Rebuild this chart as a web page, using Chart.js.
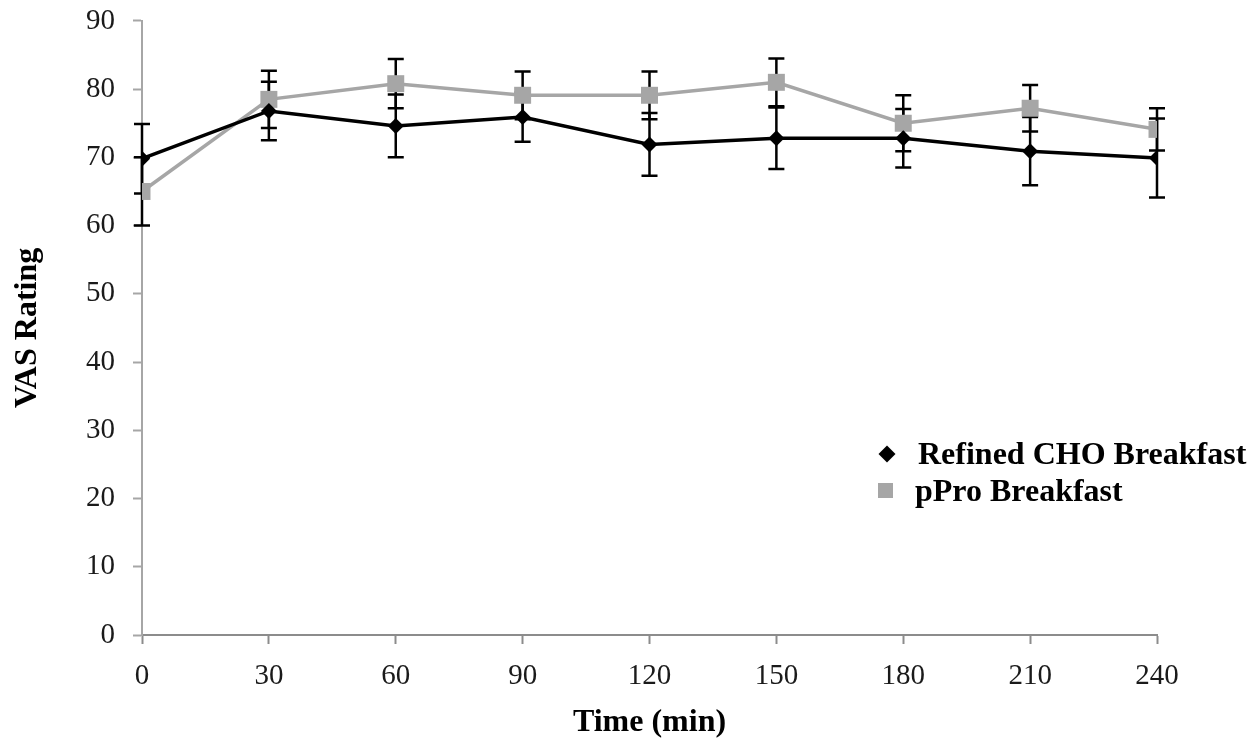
<!DOCTYPE html>
<html lang="en">
<head>
    <meta charset="UTF-8">
    <title>VAS Rating over time</title>
    <script src="https://cdn.jsdelivr.net/npm/chart.js"></script>
    <style>
        body {
            margin: 0;
            background: #fff;
            font-family: "Liberation Serif", "Times New Roman", serif;
        }

        .wrap {
            position: relative;
            width: 1253px;
            height: 743px;
        }

        .legend {
            position: absolute;
            left: 878px;
            top: 435px;
            font-weight: bold;
            font-size: 32px;
            color: #000;
            line-height: 37px;
        }

        .legend .row {
            display: flex;
            align-items: center;
            white-space: nowrap;
        }

        .mark {
            display: inline-block;
            margin-right: 22px;
        }

        .diamond {
            width: 12px;
            height: 12px;
            background: #000;
            transform: rotate(45deg);
            margin-left: 3px;
            margin-right: 25px;
        }

        .square {
            width: 15px;
            height: 15px;
            background: #a6a6a6;
        }
    </style>
</head>
<body>

<div class="wrap">
    <canvas id="vasChart" width="1253" height="743"></canvas>
    <div class="legend">
        <div class="row"><span class="mark diamond"></span>Refined CHO Breakfast</div>
        <div class="row"><span class="mark square"></span>pPro Breakfast</div>
    </div>
</div>

<script>
    // time points (min)
    const times = [0, 30, 60, 90, 120, 150, 180, 210, 240];

    // Refined CHO Breakfast: mean and error
    const refinedMean = [69.8, 76.8, 74.6, 75.9, 71.9, 72.8, 72.8, 70.9, 69.9];
    const refinedErr = [5.1, 4.3, 4.6, 3.6, 4.6, 4.5, 4.3, 5.0, 5.8];

    // pPro Breakfast: mean and error
    const pproMean = [65.0, 78.5, 80.8, 79.1, 79.1, 81.0, 75.0, 77.2, 74.1];
    const pproErr = [5.0, 4.2, 3.6, 3.5, 3.5, 3.5, 4.1, 3.4, 3.1];

    const yTicks = [0, 10, 20, 30, 40, 50, 60, 70, 80, 90];

    const FONT = "'Liberation Serif', 'Times New Roman', serif";

    function points(means) {
        return times.map((t, i) => ({ x: t, y: means[i] }));
    }

    // draws the error bars under the markers
    const errorBars = {
        id: 'errorBars',
        beforeDatasetsDraw(chart) {
            const ctx = chart.ctx;
            const xs = chart.scales.x;
            const ys = chart.scales.y;
            ctx.save();
            ctx.strokeStyle = '#000';
            ctx.lineWidth = 2.5;
            chart.data.datasets.forEach(ds => {
                ds.data.forEach((p, i) => {
                    const e = ds.errors[i];
                    const px = xs.getPixelForValue(p.x);
                    const top = ys.getPixelForValue(p.y + e);
                    const bot = ys.getPixelForValue(p.y - e);
                    ctx.beginPath();
                    ctx.moveTo(px, top);
                    ctx.lineTo(px, bot);
                    ctx.moveTo(px - 8, top);
                    ctx.lineTo(px + 8, top);
                    ctx.moveTo(px - 8, bot);
                    ctx.lineTo(px + 8, bot);
                    ctx.stroke();
                });
            });
            ctx.restore();
        }
    };

    const ctx = document.getElementById('vasChart').getContext('2d');

    new Chart(ctx, {
        type: 'line',
        data: {
            datasets: [
                {
                    label: 'Refined CHO Breakfast',
                    data: points(refinedMean),
                    errors: refinedErr,
                    borderColor: '#000',
                    backgroundColor: '#000',
                    borderWidth: 3.5,
                    pointStyle: 'rectRot',
                    pointRadius: 8,
                    pointBorderWidth: 0,
                    tension: 0
                },
                {
                    label: 'pPro Breakfast',
                    data: points(pproMean),
                    errors: pproErr,
                    borderColor: '#a6a6a6',
                    backgroundColor: '#a6a6a6',
                    borderWidth: 3.5,
                    pointStyle: 'rect',
                    pointRadius: 12,
                    pointBorderWidth: 0,
                    tension: 0
                }
            ]
        },
        options: {
            responsive: false,
            animation: false,
            events: [],
            layout: {
                padding: { top: 14, right: 96, left: 0, bottom: 0 }
            },
            plugins: {
                legend: { display: false },
                tooltip: { enabled: false }
            },
            scales: {
                x: {
                    type: 'linear',
                    min: 0,
                    max: 240,
                    afterBuildTicks: s => { s.ticks = times.map(v => ({ value: v })); },
                    afterFit: s => { s.height = 108; },
                    border: { display: true, color: '#8c8c8c', width: 2 },
                    grid: {
                        drawOnChartArea: false,
                        drawTicks: true,
                        tickLength: 9,
                        tickColor: '#8c8c8c',
                        tickWidth: 2
                    },
                    ticks: {
                        padding: 15,
                        maxRotation: 0,
                        color: '#1a1a1a',
                        font: { family: FONT, size: 29 }
                    },
                    title: {
                        display: true,
                        text: 'Time (min)',
                        color: '#000',
                        padding: { top: 0, bottom: 1 },
                        font: { family: FONT, size: 32, weight: 'bold' }
                    }
                },
                y: {
                    min: 0,
                    max: 90,
                    afterBuildTicks: s => { s.ticks = yTicks.map(v => ({ value: v })); },
                    afterFit: s => { s.width = 142; },
                    border: { display: true, color: '#a6a6a6', width: 2 },
                    grid: {
                        drawOnChartArea: false,
                        drawTicks: true,
                        tickLength: 9,
                        tickColor: '#a6a6a6',
                        tickWidth: 2
                    },
                    ticks: {
                        padding: 18,
                        color: '#1a1a1a',
                        font: { family: FONT, size: 29, lineHeight: 0.2 }
                    },
                    title: {
                        display: true,
                        text: 'VAS Rating',
                        color: '#000',
                        padding: { top: 9, bottom: 0 },
                        font: { family: FONT, size: 32, weight: 'bold' }
                    }
                }
            }
        },
        plugins: [errorBars]
    });
</script>

</body>
</html>
